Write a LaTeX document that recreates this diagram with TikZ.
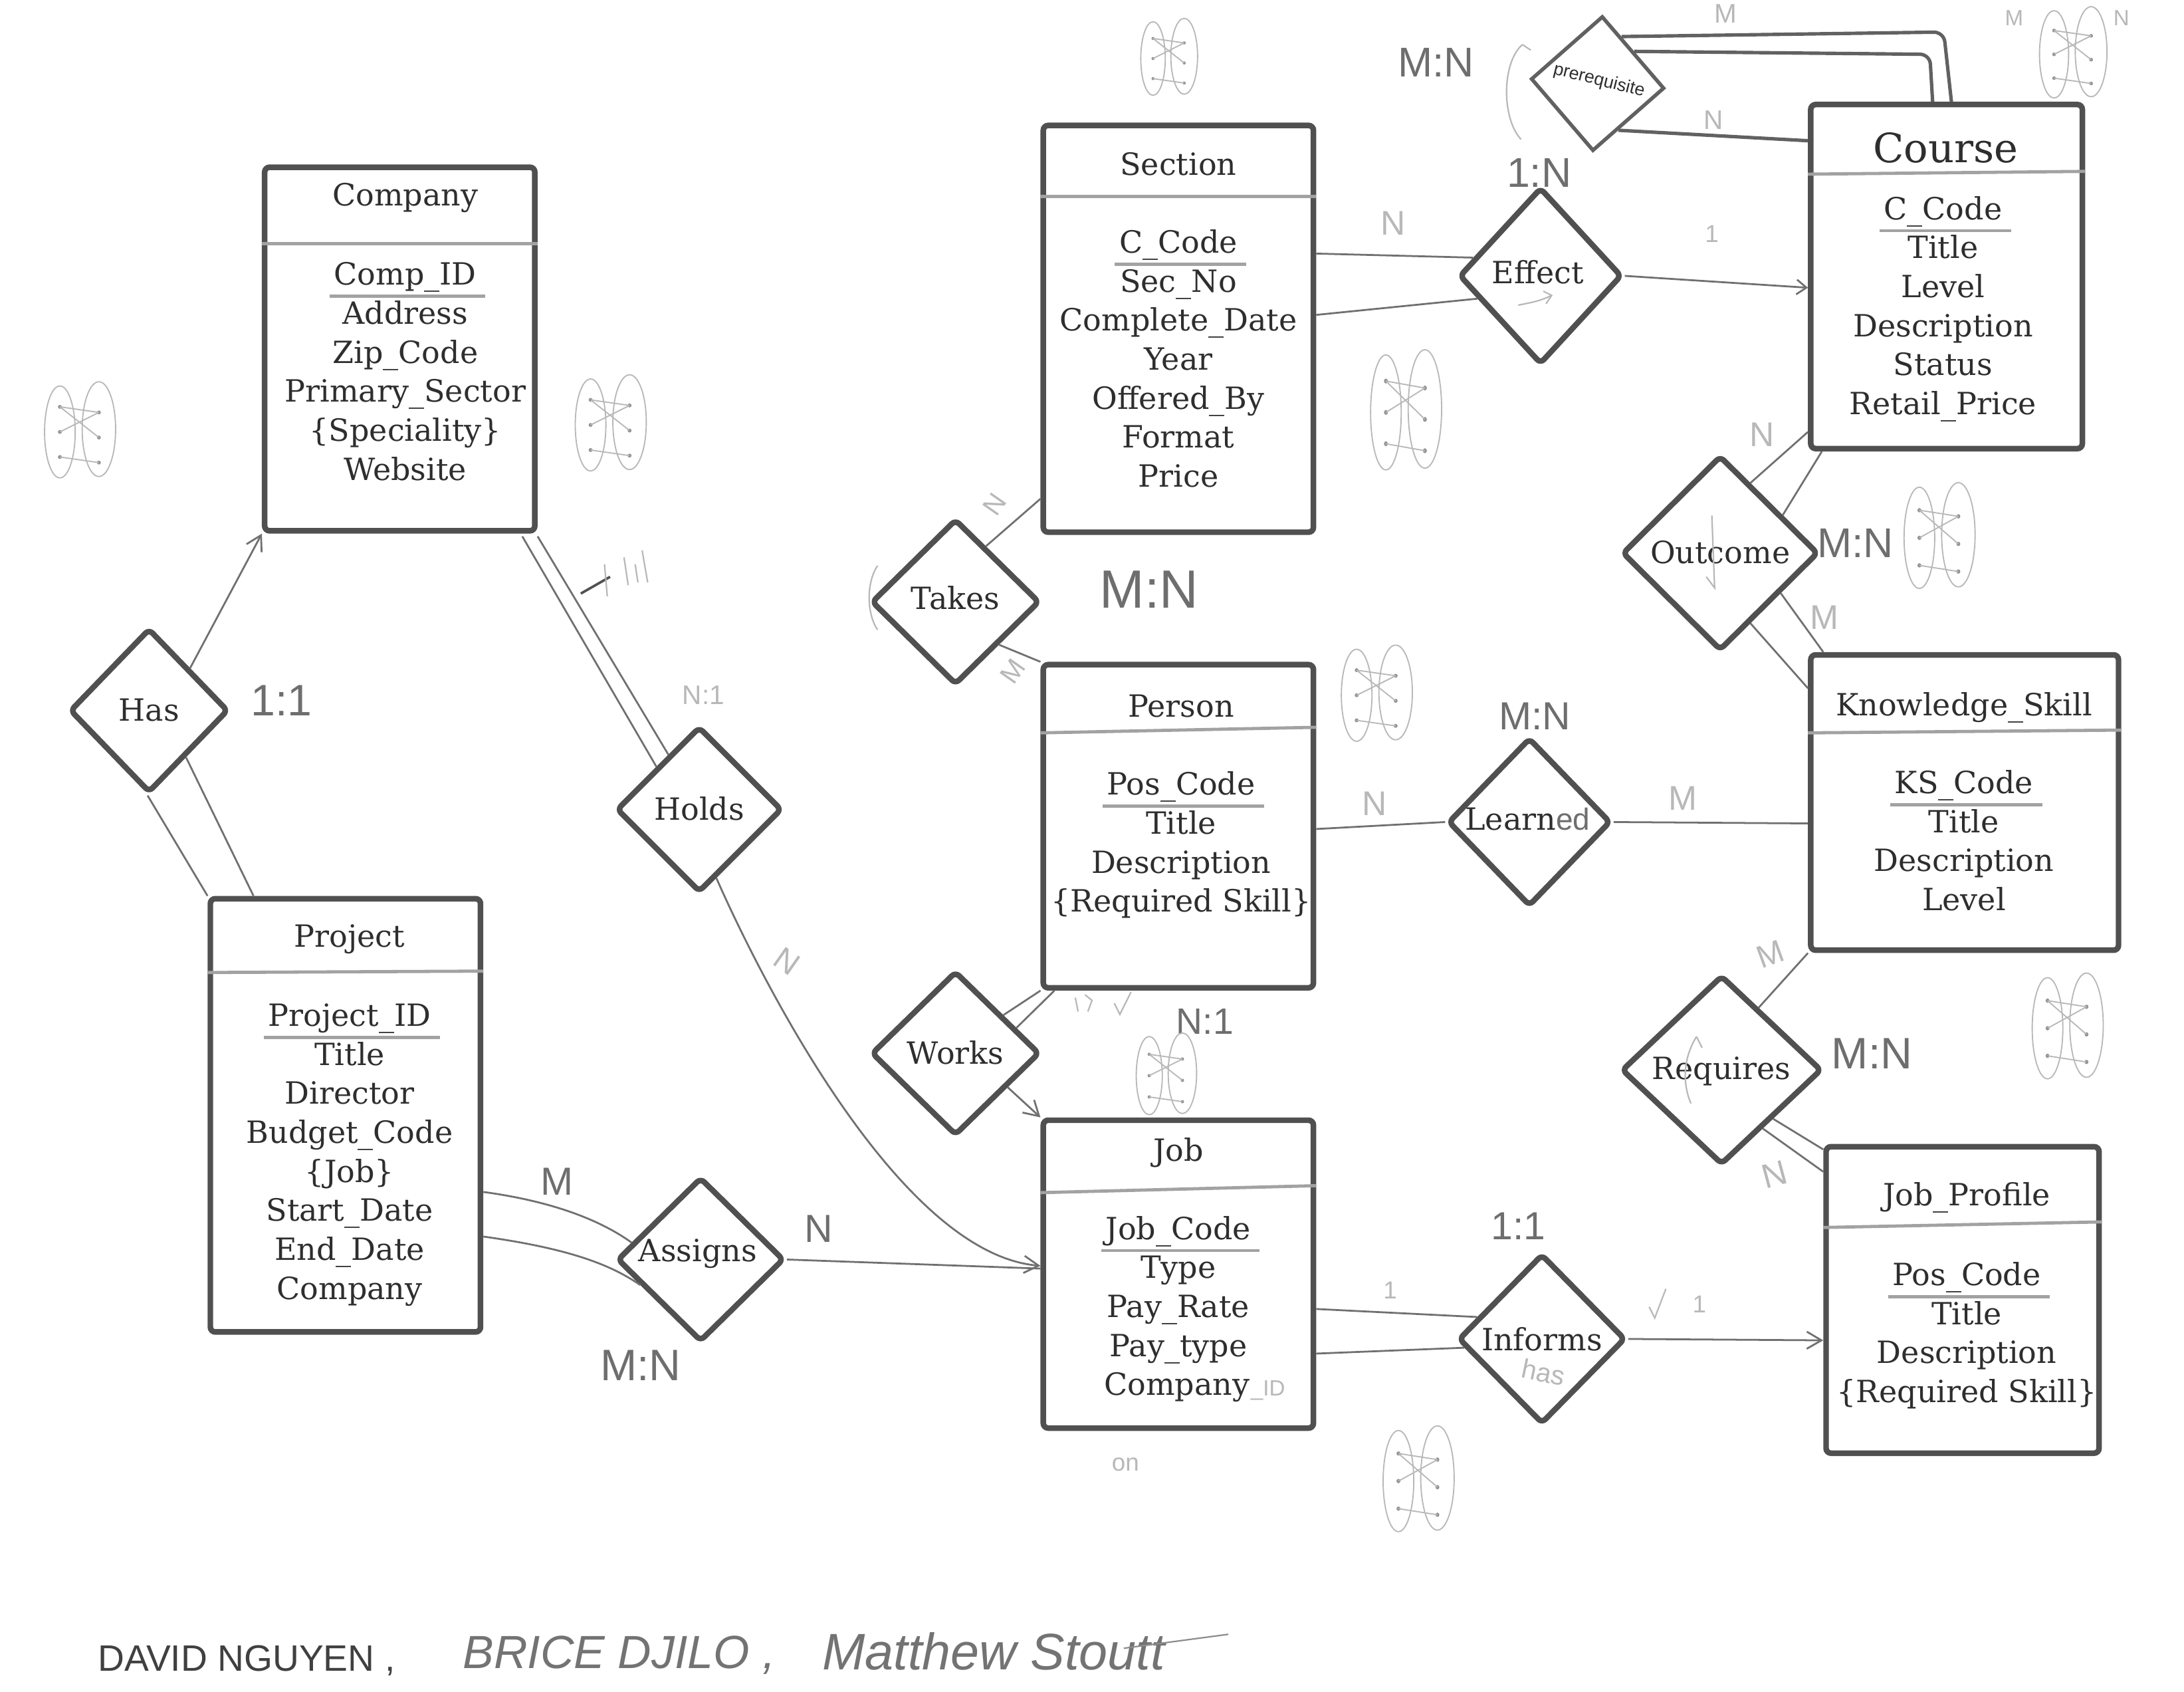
\documentclass[tikz,border=0pt]{standalone}
\usepackage{fontspec}
\setmainfont{DejaVu Serif}
\newfontfamily\handfont{Liberation Sans}
\usetikzlibrary{shapes.geometric,arrows.meta,calc}
\definecolor{boxc}{HTML}{505050}
\definecolor{linec}{HTML}{707070}
\definecolor{sepc}{HTML}{A2A2A2}
\definecolor{txtc}{HTML}{2E2E2E}
\definecolor{handc}{HTML}{6E6E6E}
\definecolor{faintc}{HTML}{B8B8B8}
\newcommand\attrcol[4]{\foreach \t [count=\i] in {#4} {\node[attr] (#1\i) at (#2,{#3+28*(\i-1)}) {\t};}}
\newcommand\keyline[1]{\draw[keyl] ($(#1.south west)+(-3,6)$) -- ($(#1.south east)+(6,6)$);}
\tikzset{
  mapping/.pic={
    \draw[doodle] (-14,0) ellipse [x radius=11, y radius=33];
    \draw[doodle] (14,-2) ellipse [x radius=12, y radius=34];
    \foreach \yy in {-18,0,18} {\fill[doodledot] (-14,\yy) circle [radius=1.4]; \fill[doodledot] (14,\yy+4) circle [radius=1.4];}
    \draw[doodle] (-14,-18) -- (14,4) (-14,0) -- (14,-14) (-14,18) -- (14,22) (-14,-18) -- (14,-14);
  }
}
\begin{document}
\begin{tikzpicture}[x=0.02cm,y=-0.02cm,
  entity/.style={draw=boxc, line width=2.3pt, rounded corners=2pt, inner sep=0pt},
  rel/.style={diamond, draw=boxc, line width=2.3pt, rounded corners=2pt, inner sep=0pt, line join=round},
  attr/.style={text=txtc, font=\fontsize{12.5}{14}\selectfont, inner sep=0pt, text height=9.6pt, text depth=1pt},
  bigtitle/.style={text=txtc, font=\fontsize{16.5}{18}\selectfont, inner sep=0pt},
  sepline/.style={draw=sepc, line width=1.3pt},
  keyl/.style={draw=sepc, line width=1.2pt},
  conn/.style={draw=linec, line width=0.75pt},
  heavy/.style={draw=boxc!90, line width=1.4pt, rounded corners=4pt},
  arr/.style={conn, -{Straight Barb[length=6pt,width=7pt]}},
  card/.style={text=handc, font=\handfont\fontsize{#1}{#1}\selectfont, inner sep=0pt},
  lite/.style={text=faintc, font=\handfont\fontsize{#1}{#1}\selectfont, inner sep=0pt},
  faint/.style={draw=faintc, line width=0.6pt},
  doodle/.style={draw=faintc, line width=0.5pt},
  doodledot/.style={fill=faintc!80!black}
]
\fill[white] (0,0) rectangle (1568,1214);
\useasboundingbox (0,0) rectangle (1568,1214);

% ---------------- entities ----------------
\node[entity, minimum width=3.88cm, minimum height=5.22cm] (company) at (287,250.5) {};
\node[attr] (companyT) at (291,140) {Company};
\draw[sepline] (company.west |- 0,175) -- (company.east |- 0,175);
\node[attr] (companyK) at (291,197) {Comp\_ID};
\keyline{companyK}
\attrcol{compA}{291}{225}{Address,Zip\_Code,Primary\_Sector,\{Speciality\},Website}

\node[entity, minimum width=3.88cm, minimum height=5.84cm] (section) at (846,236) {};
\node[attr] (sectionT) at (846,118) {Section};
\draw[sepline] (section.west |- 0,141) -- (section.east |- 0,141);
\node[attr] (sectionK) at (846,174) {C\_Code};
\keyline{sectionK}
\attrcol{secA}{846}{202}{Sec\_No,Complete\_Date,Year,Offered\_By,Format,Price}

\node[entity, minimum width=3.9cm, minimum height=4.94cm] (course) at (1397.5,198.5) {};
\node[bigtitle] (courseT) at (1397,106) {Course};
\draw[sepline] (course.west |- 0,125) -- (course.east |- 0,123);
\node[attr] (courseK) at (1395,150) {C\_Code};
\keyline{courseK}
\attrcol{courseA}{1395}{178}{Title,Level,Description,Status,Retail\_Price}

\node[entity, minimum width=3.88cm, minimum height=4.64cm] (person) at (846,593) {};
\node[attr] (personT) at (848,507) {Person};
\draw[sepline] (person.west |- 0,526) -- (person.east |- 0,522);
\node[attr] (personK) at (848,563) {Pos\_Code};
\keyline{personK}
\attrcol{personA}{848}{591}{Title,Description,\{Required Skill\}}

\node[entity, minimum width=4.42cm, minimum height=4.24cm] (ks) at (1410.5,576) {};
\node[attr] (ksT) at (1410,506) {Knowledge\_Skill};
\draw[sepline] (ks.west |- 0,526) -- (ks.east |- 0,524);
\node[attr] (ksK) at (1410,562) {KS\_Code};
\keyline{ksK}
\attrcol{ksA}{1410}{590}{Title,Description,Level}

\node[entity, minimum width=3.88cm, minimum height=6.22cm] (project) at (248,800.5) {};
\node[attr] (projectT) at (251,672) {Project};
\draw[sepline] (project.west |- 0,698) -- (project.east |- 0,697);
\node[attr] (projectK) at (251,729) {Project\_ID};
\keyline{projectK}
\attrcol{projA}{251}{757}{Title,Director,Budget\_Code,\{Job\},Start\_Date,End\_Date,Company}

\node[entity, minimum width=3.88cm, minimum height=4.42cm] (job) at (846,914.5) {};
\node[attr] (jobT) at (846,826) {Job};
\draw[sepline] (job.west |- 0,856) -- (job.east |- 0,851);
\node[attr] (jobK) at (846,882) {Job\_Code};
\keyline{jobK}
\attrcol{jobA}{846}{910}{Type,Pay\_Rate,Pay\_type}
\node[attr] (jobComp) at (845,994) {Company};
\node[lite=9, anchor=west] (jobID) at ($(jobComp.east)+(0,4)$) {\_ID};

\node[entity, minimum width=3.92cm, minimum height=4.4cm] (jp) at (1409,933) {};
\node[attr] (jpT) at (1412,858) {Job\_Profile};
\draw[sepline] (jp.west |- 0,881) -- (jp.east |- 0,877);
\node[attr] (jpK) at (1412,915) {Pos\_Code};
\keyline{jpK}
\attrcol{jpA}{1412}{943}{Title,Description,\{Required Skill\}}

% ---------------- relationships ----------------
\node[rel, minimum width=2.28cm, minimum height=2.36cm] (has) at (107,510) {};
\node[attr] (hasL) at (107,510) {Has};
\node[rel, minimum width=2.38cm, minimum height=2.38cm] (holds) at (502,581) {};
\node[attr] (holdsL) at (502,581) {Holds};
\node[rel, minimum width=2.42cm, minimum height=2.38cm] (takes) at (686,432) {};
\node[attr] (takesL) at (686,430) {Takes};
\node[rel, minimum width=2.42cm, minimum height=2.36cm] (works) at (686,756) {};
\node[attr] (worksL) at (686,756) {Works};
\node[rel, minimum width=2.4cm, minimum height=2.36cm] (assigns) at (503,904) {};
\node[attr] (assignsL) at (501,898) {Assigns};
\node[rel, minimum width=2.34cm, minimum height=2.54cm] (effect) at (1106,198) {};
\node[attr] (effectL) at (1104,196) {Effect};
\node[rel, minimum width=2.34cm, minimum height=2.42cm] (learned) at (1098,590) {};
\node[attr] (learnedL) at (1098,588) {Learn\rlap{\handfont\color{handc}ed}\phantom{ed}};
\node[rel, minimum width=2.82cm, minimum height=2.8cm] (outcome) at (1235,397) {};
\node[attr] (outcomeL) at (1235,397) {Outcome};
\node[rel, minimum width=2.88cm, minimum height=2.72cm] (requires) at (1236,768) {};
\node[attr] (requiresL) at (1236,767) {Requires};
\node[rel, minimum width=2.4cm, minimum height=2.44cm] (informs) at (1107,961) {};
\node[attr] (informsL) at (1107,962) {Informs};
\node[lite=11, rotate=-12] (informsH) at (1108,985) {has};
\node[diamond, draw=boxc!90, line width=1.5pt, inner sep=0pt, minimum width=1.92cm, minimum height=1.94cm, rotate=-4] (prereq) at (1147,60) {};
\node[card=7.3, text=txtc, rotate=-14] (prereqL) at (1148,58) {prerequisite};

% ---------------- connectors ----------------
% Company - Has - Project
\draw[arr] ($(has.north)!0.5!(has.east)$) -- (company.south west);
\draw[conn] ($(has.south)+(-1,0)$) -- (project.north west);
\draw[conn] ($(has.south)!0.45!(has.east)$) -- ($(project.north west)+(33,0)$);
% Company - Holds (double) - Job
\draw[conn] ($(company.south east)+(-11,2)$) -- ($(holds.north)!0.5!(holds.west)$);
\draw[conn] ($(company.south east)+(0,2)$) -- ($(holds.north)!0.36!(holds.west)$);
\draw[arr] ($(holds.south)!0.2!(holds.east)$) .. controls (545,700) and (645,900) .. ($(job.west)+(0,-6)$);
% Project - Assigns - Job
\draw[conn] ($(project.east)+(0,55)$) .. controls (395,862) and (430,875) .. ($(assigns.west)!0.2!(assigns.north)$);
\draw[conn] ($(project.east)+(0,87)$) .. controls (400,895) and (435,905) .. ($(assigns.west)!0.3!(assigns.south)$);
\draw[conn] (assigns.east) -- ($(job.west)+(0,-4)$);
% Takes
\draw[conn] ($(takes.north)!0.35!(takes.east)$) -- ($(section.south west)+(0,-26)$);
\draw[conn] ($(takes.south)!0.5!(takes.east)$) -- (person.north west);
% Works
\draw[conn] ($(works.north)!0.55!(works.east)$) -- (person.south west);
\draw[conn] ($(works.north)!0.7!(works.east)$) -- ($(person.south west)+(10,0)$);
\draw[arr] ($(works.east)!0.4!(works.south)$) -- (job.north west);
% Section - Effect - Course
\draw[conn] ($(section.east)+(0,-54)$) -- ($(effect.west)!0.2!(effect.north)$);
\draw[conn] ($(section.east)+(0,-10)$) -- ($(effect.west)!0.25!(effect.south)$);
\draw[conn, -{Straight Barb[length=4pt,width=6pt]}] (effect.east) -- ($(course.west)+(0,8)$);
% Prerequisite (recursive on Course)
\draw[heavy] ($(prereq.north)!0.3!(prereq.east)$) -- ($(course.north)+(-2,-50)$) -- ($(course.north)+(3.5,0)$);
\draw[heavy] ($(prereq.north)!0.5!(prereq.east)$) -- ($(course.north)+(-12,-34)$) -- ($(course.north)+(-10,0)$);
\draw[heavy] ($(prereq.south)!0.35!(prereq.east)$) -- ($(course.north west)+(0,28)$);
% Course - Outcome - Knowledge_Skill
\draw[conn] ($(course.south west)+(0,-14)$) -- ($(outcome.north)!0.3!(outcome.east)$);
\draw[conn] ($(course.south west)+(10,0)$) -- ($(outcome.north)!0.62!(outcome.east)$);
\draw[conn] ($(outcome.east)!0.4!(outcome.south)$) -- ($(ks.north west)+(11,0)$);
\draw[conn] ($(outcome.east)!0.7!(outcome.south)$) -- ($(ks.north west)+(0,26)$);
% Person - Learned - Knowledge_Skill
\draw[conn] ($(person.east)+(0,2)$) -- (learned.west);
\draw[conn] (learned.east) -- ($(ks.west)+(0,15)$);
% Knowledge_Skill - Requires - Job_Profile
\draw[conn] (ks.south west) -- ($(requires.north)!0.36!(requires.east)$);
\draw[conn] ($(requires.east)!0.5!(requires.south)$) -- ($(jp.north west)+(0,4)$);
\draw[conn] ($(requires.east)!0.6!(requires.south)$) -- ($(jp.north west)+(0,20)$);
% Job - Informs - Job_Profile
\draw[conn] ($(job.east)+(0,25)$) -- ($(informs.west)!0.25!(informs.north)$);
\draw[conn] ($(job.east)+(0,57)$) -- ($(informs.west)!0.1!(informs.south)$);
\draw[arr] (informs.east) -- ($(jp.west)+(0,29)$);

% ---------------- cardinality notes ----------------
\node[card=17] (cPre) at (1031,45) {M:N};
\node[lite=11] (cPreM) at (1239,10) {M};
\node[lite=11] (cPreN) at (1230,86) {N};
\node[card=17] (cEff) at (1105,124) {1:N};
\node[lite=14] (cEffN) at (1000,160) {N};
\node[lite=10] (cEff1) at (1229,168) {1};
\node[card=18] (cHas) at (202,503) {1:1};
\node[lite=11] (cHolds) at (505,499) {N:1};
\node[lite=13, rotate=-35] (cHoldsN) at (565,690) {N};
\node[lite=11, rotate=55] (cTakesN) at (714,362) {N};
\node[lite=11, rotate=55] (cTakesM) at (727,482) {M};
\node[card=22] (cTakes) at (825,423) {M:N};
\node[lite=14] (cOutN) at (1265,312) {N};
\node[card=17] (cOut) at (1332,390) {M:N};
\node[lite=14] (cOutM) at (1310,443) {M};
\node[card=16] (cLearn) at (1102,514) {M:N};
\node[lite=14] (cLearnN) at (987,577) {N};
\node[lite=14] (cLearnM) at (1208,573) {M};
\node[lite=13, rotate=20] (cReqM) at (1271,685) {M};
\node[card=18] (cReq) at (1344,756) {M:N};
\node[lite=14, rotate=15] (cReqN) at (1274,843) {N};
\node[card=15] (cWorks) at (865,733) {N:1};
\node[card=16] (cAsgM) at (400,848) {M};
\node[card=16] (cAsgN) at (588,882) {N};
\node[card=18] (cAsg) at (460,980) {M:N};
\node[card=16] (cInf) at (1090,880) {1:1};
\node[lite=10] (cInf1) at (998,926) {1};
\node[lite=10] (cInf2) at (1220,936) {1};
\node[lite=10] (cOn) at (808,1051) {on};
\node[lite=9] (cMapM) at (1446,13) {M};
\node[lite=9] (cMapN) at (1523,13) {N};

% ---------------- hand marks ----------------
\draw[faint] (1093,32) .. controls (1078,45) and (1078,85) .. (1092,100);
\draw[faint] (1093,32) -- (1099,36);
\draw[faint] (630,406) .. controls (622,418) and (622,440) .. (630,452);
\draw[faint] (1090,219) .. controls (1100,217) and (1106,216) .. (1114,212);
\draw[faint] (1108,209) -- (1114,212) -- (1110,218);
\draw[faint] (1229,370) -- (1231,422) -- (1225,414);
\draw[faint] (1218,744) .. controls (1208,760) and (1208,778) .. (1214,792);
\draw[faint] (1218,744) -- (1222,752);
\draw[draw=boxc, line width=1pt] (417,426) -- (438,414);
\draw[faint] (434,405) -- (436,428) (448,400) -- (451,420) (456,405) -- (458,418) (461,395) -- (465,418);
\draw[faint] (1184,938) -- (1188,946) -- (1196,925);
\draw[faint] (800,720) -- (804,728) -- (812,712);
\draw[faint] (772,716) -- (774,726) (779,714) -- (784,718) -- (781,726);

% ---------------- mapping sketches ----------------
\pic at (57,310) {mapping};
\pic at (438,305) {mapping};
\pic[scale=0.8] at (839,42) {mapping};
\pic[yscale=1.25] at (1009,296) {mapping};
\pic at (988,499) {mapping};
\pic[yscale=1.1] at (1392,386) {mapping};
\pic[yscale=1.1] at (1484,738) {mapping};
\pic[scale=0.85] at (837,772) {mapping};
\pic[yscale=1.1] at (1018,1063) {mapping};
\pic[scale=0.95] at (1488,39) {mapping};

% ---------------- signatures ----------------
\node[text=black!75, font=\handfont\fontsize{15}{15}\selectfont, anchor=west, inner sep=0pt] (sig1) at (70,1192) {DAVID NGUYEN ,};
\node[text=black!55, font=\handfont\itshape\fontsize{19}{19}\selectfont, anchor=west, inner sep=0pt] (sig2) at (332,1188) {BRICE DJILO ,};
\node[text=black!55, font=\handfont\itshape\fontsize{21}{21}\selectfont, anchor=west, inner sep=0pt] (sig3) at (590,1185) {Matthew Stoutt};
\draw[draw=black!45, line width=0.6pt] ($(sig3.east)+(-30,-2)$) -- ($(sig3.east)+(45,-12)$);
\end{tikzpicture}
\end{document}
